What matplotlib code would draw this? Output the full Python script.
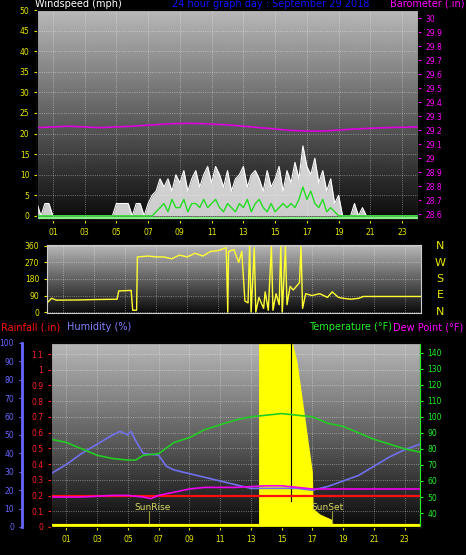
import numpy as np
import matplotlib
matplotlib.use("Agg")
from matplotlib import pyplot as plt

# ---- data ----
q_hours = np.arange(0, 24.01, 0.25)
gust = [3,0,3,3, 0,0,0,0, 0,0,0,0, 0,0,0,0, 0,0,0,0, 3,3,3,3, 0,3,3,0,
        3,5,6,9, 7,9,6,10, 8,11,6,9, 11,7,10,12, 8,12,10,7, 11,6,9,10,
        12,7,10,11, 9,6,11,7, 9,12,6,11, 8,13,9,17, 12,10,14,8, 11,6,9,3,
        5,0,0,0, 3,0,2,0, 0,0,0,0, 0,0,0,0, 0,0,0,0, 0]
avg = [0,0,0,0, 0,0,0,0, 0,0,0,0, 0,0,0,0, 0,0,0,0, 0,0,0,0, 0,0,0,0,
       0,0,1,2, 3,1,4,2, 2,4,1,3, 3,2,4,2, 3,4,2,1, 3,2,1,3,
       2,4,1,3, 4,2,1,3, 1,2,3,2, 3,2,4,7, 4,6,3,2, 4,1,2,1,
       0,0,0,0, 0,0,0,0, 0,0,0,0, 0,0,0,0, 0,0,0,0, 0]

baro_hours = [0, 2, 4, 6, 8, 9, 10, 11, 12, 14, 16, 17, 18, 20, 22, 24]
baro = [29.22, 29.23, 29.22, 29.23, 29.245, 29.25, 29.25, 29.245, 29.24,
        29.22, 29.20, 29.195, 29.195, 29.21, 29.22, 29.225]

dir_hours = [0,0.3,0.6,2,3,4.5,4.6,5.4,5.5,5.75,5.8,6.5,7,7.5,8,8.5,9,9.5,10,10.5,11,
             11.5,11.6,11.65,12,12.3,12.5,12.7,12.9,13.0,13.1,13.3,13.4,13.6,13.9,14.0,
             14.2,14.4,14.5,14.7,14.9,15.0,15.1,15.3,15.4,15.6,15.8,16.2,16.3,16.4,16.6,
             17,17.5,18,18.3,18.7,19,19.5,20,20.3,24]
direction = [50,75,65,66,68,70,115,118,10,10,300,305,300,300,290,310,300,320,305,330,335,
             350,0,330,340,270,330,60,50,360,0,350,0,80,20,110,
             10,360,10,100,40,360,0,360,40,140,120,160,360,20,100,
             90,100,80,110,80,75,70,75,85,85]

t_hours = [0,1,2,3,4,5,5.5,6,7,8,9,10,11,12,13,14,15,16,17,18,19,20,21,22,23,24]
temp = [86,84,80,76,74,73,73,76,77,84,87,92,95,98,100,101,102,101,100,96,94,90,86,83,80,78]
hum_hours = [0,1,2,3,4,4.5,5,5.2,5.5,6,7,7.5,8,9,10,11,12,13,14,15,16,17,18,19,20,21,22,23,24]
humidity = [29,34,40,45,50,52,50,52,47,40,39,33,31,29,27,25,23,21,21,21,21,20,22,25,28,33,38,42,45]
dew_hours = [0,2,4,5,6,6.5,7,8,9,10,12,14,15,16,17,18,20,24]
dew = [50,50,51,51,50,49,51,53,55,56,56,57,57,56,55,55,55,55]
rain_hours = [0, 24]
rain = [0.2, 0.2]
solar_hours = [0,13.5,13.5,15.6,15.7,16,16.5,17,17.05,17.5,18.3,18.35,24]
solar = [0,0,1,1,1,0.9,0.6,0.3,0.1,0.07,0.04,0,0]
hour_ticks = list(range(1, 24, 2))
hour_labels = ["%02d" % h for h in hour_ticks]

YEL = "#e8e800"
fig = plt.figure(figsize=(4.66, 5.55), dpi=100, facecolor="black")
grad = np.linspace(0.04, 0.72, 256).reshape(-1, 1)

def style(ax, show_x=True):
    ax.imshow(grad, aspect="auto", cmap="gray", vmin=0, vmax=1, extent=(0, 1, 0, 1),
              transform=ax.transAxes, origin="lower", zorder=0)
    ax.set_xlim(0, 24)
    ax.set_xticks(hour_ticks)
    ax.set_xticklabels(hour_labels if show_x else [])
    ax.tick_params(colors=YEL, labelsize=5.5, length=2)
    ax.grid(color="white", linestyle=":", linewidth=0.6, alpha=0.5)
    for s in ax.spines.values():
        s.set_color("#cccccc")

def frac(x0, y0, x1, y1):
    return [x0/466, 1-y1/555, (x1-x0)/466, (y1-y0)/555]

# ---- wind / barometer ----
ax1 = fig.add_axes(frac(37, 10, 418, 220))
style(ax1)
ax1.set_ylim(-1, 50)
ax1.set_yticks(range(0, 51, 5))
ax1.fill_between(q_hours, 0, gust, color="#f0f0f0", alpha=0.85, lw=0, zorder=2)
ax1.plot(q_hours, gust, color="white", lw=0.8, zorder=2)
ax1.plot(q_hours, avg, color="#22dd22", lw=1, zorder=3)
ax1.axhline(-0.5, color="#88ee88", lw=1.5, zorder=3)
ax1b = ax1.twinx()
ax1b.set_ylim(28.56, 30.06)
ax1b.set_yticks(np.round(np.arange(28.6, 30.01, 0.1), 1))
ax1b.set_yticklabels(["%g" % v for v in np.round(np.arange(28.6, 30.01, 0.1), 1)])
ax1b.tick_params(colors="#ff00ff", labelsize=5.5, length=2)
ax1b.plot(baro_hours, baro, color="#dd00dd", lw=1.2)
fig.text(35/466, 1-7/555, "Windspeed (mph)", color="white", fontsize=7)
fig.text(172/466, 1-7/555, "24 hour graph day : September 29 2018", color="#1010ff", fontsize=7)
fig.text(464/466, 1-7/555, "Barometer (.in)", color="#ff00ff", fontsize=7, ha="right")

# ---- wind direction ----
ax2 = fig.add_axes(frac(47, 245, 421, 313))
style(ax2, show_x=False)
ax2.tick_params(axis="x", length=0)
ax2.set_ylim(-5, 365)
ax2.set_yticks([0, 90, 180, 270, 360])
ax2.plot(dir_hours, direction, color="#ffff33", lw=1)
for i, c in enumerate("NWSEN"):
    fig.text(440/466, 1-(246+i*16.5)/555, c, color=YEL, fontsize=8, va="center", ha="center")

# ---- temperature / humidity / rain ----
ax3 = fig.add_axes(frac(51, 343, 420, 527))
style(ax3)
ax3.set_ylim(0, 1.17)
ax3.set_yticks(np.round(np.arange(0, 1.11, 0.1), 1))
ax3.set_yticklabels(["0"] + ["%g" % v for v in np.round(np.arange(0.1, 1.11, 0.1), 1)])
ax3.tick_params(axis="y", colors="#ff2020")
ax3.spines["left"].set_color("#ff6060")
ax3.fill_between(solar_hours, 0, [s*1.17 for s in solar], color="#ffff00", lw=0, zorder=2)
ax3.axvline(15.6, 0.14, 1, color="black", lw=0.8, zorder=3)
ax3.plot([0, 24], [0.004, 0.004], color="#ffff00", lw=3, zorder=3)
ax3.plot(rain_hours, rain, color="#ff1010", lw=1.6, zorder=6)
ax3.plot([6.4, 6.4], [0, 0.1], color="#999933", lw=0.8)
ax3.plot([18.3, 18.3], [0, 0.1], color="#999933", lw=0.8)
ax3.text(6.6, 0.105, "SunRise", color="#d8d860", fontsize=6.5, ha="center")
ax3.text(18.0, 0.105, "SunSet", color="#d8d860", fontsize=6.5, ha="center")

ax3h = ax3.twinx()
ax3h.set_ylim(0, 100)
ax3h.yaxis.tick_left()
ax3h.spines["left"].set_position(("outward", 21))
ax3h.spines["left"].set_color("#6666ff")
ax3h.spines["left"].set_linewidth(2)
ax3h.set_yticks(range(0, 101, 10))
ax3h.tick_params(colors="#6666ff", labelsize=5.5, length=2)
ax3h.plot(hum_hours, humidity, color="#7070ee", lw=1.2, zorder=4)

ax3t = ax3.twinx()
ax3t.set_ylim(31.3, 146)
ax3t.set_yticks(range(40, 141, 10))
ax3t.tick_params(colors="#22ee22", labelsize=5.5, length=2)
ax3t.spines["right"].set_color("#22ee22")
ax3t.plot(t_hours, temp, color="#22cc22", lw=1.2)
ax3t.plot(dew_hours, dew, color="#ee00ee", lw=1.2)

fig.text(1/466, 1-327/555, "Rainfall (.in)", color="#ff1010", fontsize=7, va="center")
fig.text(67/466, 1-327/555, "Humidity (%)", color="#8080ff", fontsize=7, va="center")
fig.text(392/466, 1-327/555, "Temperature (\u00b0F)", color="#22ee22", fontsize=7, va="center", ha="right")
fig.text(393/466, 1-327/555, "Dew Point (\u00b0F)", color="#ff00ff", fontsize=7, va="center")

fig.savefig("out.png", dpi=100, facecolor="black")
